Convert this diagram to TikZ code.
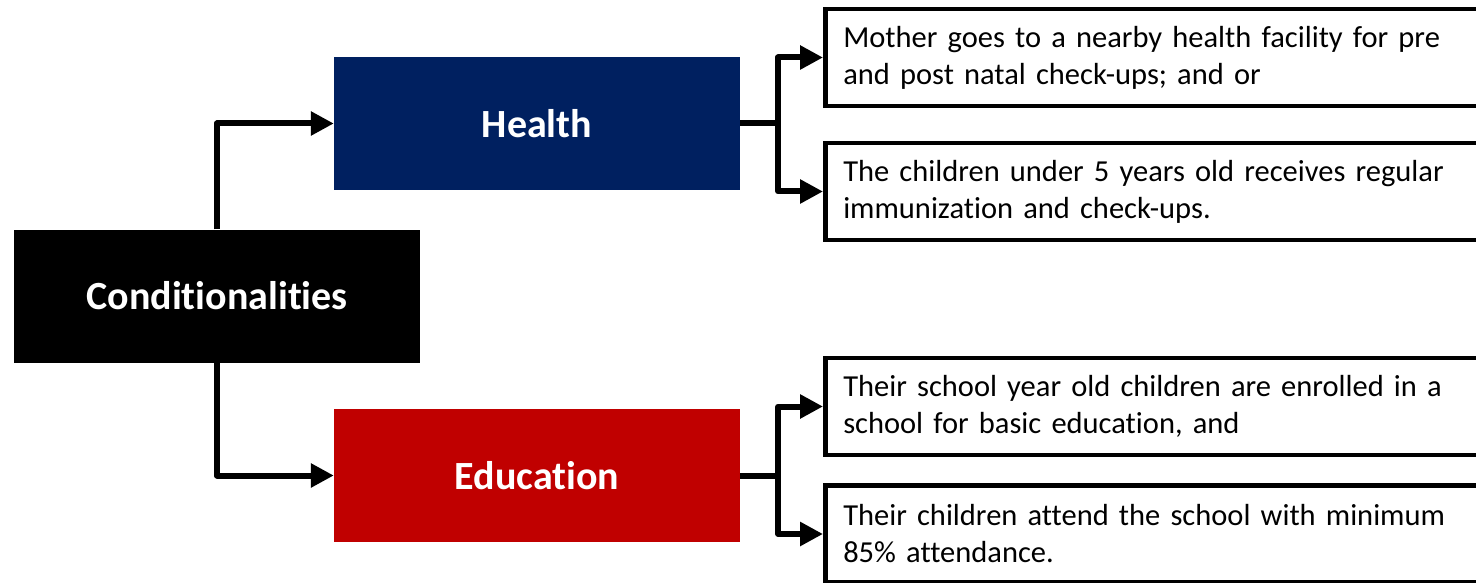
\documentclass[tikz,border=0pt]{standalone}
\usepackage{fontspec}
\setmainfont{Carlito}[Ligatures=NoCommon]
\usetikzlibrary{arrows.meta}

\definecolor{healthblue}{HTML}{002060}
\definecolor{edured}{HTML}{C00000}

\begin{document}
\begin{tikzpicture}[x=1pt, y=-1pt,
		head/.style={minimum width=406pt, minimum height=133pt, inner sep=0pt,
			text=white, font=\fontsize{40}{48}\selectfont\bfseries},
		cond/.style={draw=black, line width=4.5pt, anchor=west, inner xsep=18pt,
			text width=640pt, align=left, minimum height=97pt,
			font=\fontsize{30.5}{37}\selectfont},
		link/.style={line width=6pt, line join=round, -{Triangle[length=23pt, width=23pt]}},
		bar/.style={line width=6pt, line join=round}]
		\useasboundingbox (0,0) rectangle (1476,583);

		\node[head, fill=black] (c) at (217, 296) {Conditionalities};
		\node[head, fill=healthblue] (h) at (537, 123.5) {Health};
		\node[head, fill=edured] (e) at (537, 475.5) {Education};

		\node[cond] (h1) at (823, 57.5) {Mother goes to a nearby health facility for pre\\and post natal check-ups; and or};
		\node[cond] (h2) at (823, 191.5) {The children under 5 years old receives regular\\immunization and check-ups.};
		\node[cond] (e1) at (823, 406.5) {Their school year old children are enrolled in a\\school for basic education, and};
		\node[cond] (e2) at (823, 534) {Their children attend the school with minimum\\85\% attendance.};

		\draw[link] (c.north) |- (h.west);
		\draw[link] (c.south) |- (e.west);

		\draw[bar] (h.east) -- ++(38,0) coordinate (hb);
		\draw[link] (hb) |- (h1.west);
		\draw[link] (hb) |- (h2.west);

		\draw[bar] (e.east) -- ++(38,0) coordinate (eb);
		\draw[link] (eb) |- (e1.west);
		\draw[link] (eb) |- (e2.west);
	\end{tikzpicture}
\end{document}
